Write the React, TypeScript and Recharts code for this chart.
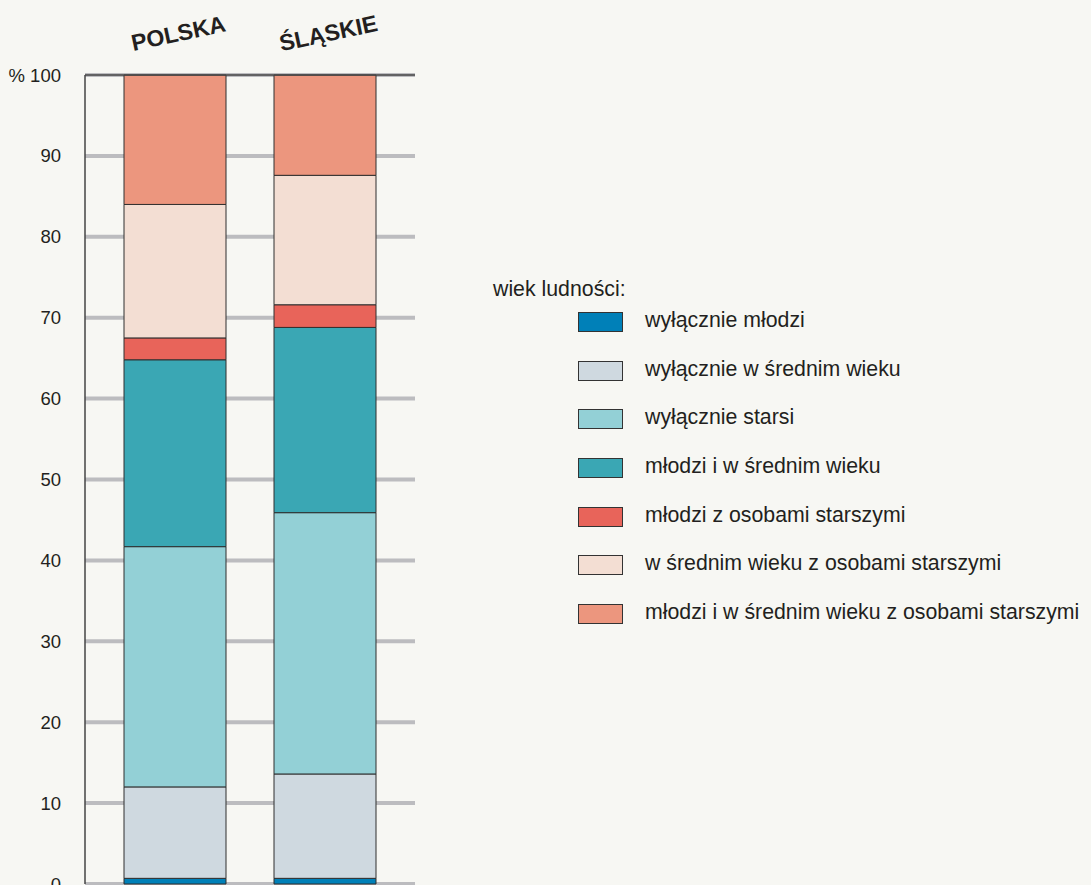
import React from 'react';
import { BarChart, Bar, XAxis, YAxis, CartesianGrid, Legend } from 'recharts';

const categories = ['POLSKA', 'ŚLĄSKIE'];
const seriesNames = [
  'wyłącznie młodzi',
  'wyłącznie w średnim wieku',
  'wyłącznie starsi',
  'młodzi i w średnim wieku',
  'młodzi z osobami starszymi',
  'w średnim wieku z osobami starszymi',
  'młodzi i w średnim wieku z osobami starszymi',
];
const seriesColors = ['#0080b8', '#cfd9e0', '#93d0d6', '#3aa7b4', '#e8645a', '#f3ded3', '#ec967e'];
const polskaValues = [0.7, 11.3, 29.7, 23.1, 2.7, 16.5, 16.0];
const slaskieValues = [0.7, 12.9, 32.3, 22.9, 2.8, 16.0, 12.4];
const yTicks = [0, 10, 20, 30, 40, 50, 60, 70, 80, 90, 100];
const legendTitle = 'wiek ludności:';

const valuesByCategory = [polskaValues, slaskieValues];
const data = categories.map((c, ci) => {
  const row: Record<string, any> = { name: c };
  seriesNames.forEach((s, si) => {
    row['s' + si] = valuesByCategory[ci][si];
  });
  return row;
});

const FONT = '"Liberation Sans", Arial, Helvetica, sans-serif';
const TEXT = '#231f20';

const TopTick = (props: any) => {
  const { x, y, payload } = props;
  return (
    <g transform={`translate(${x + 5},${y - 32}) rotate(-12)`}>
      <text x={0} y={0} textAnchor="middle" fontFamily={FONT} fontWeight="bold" fontSize={23} fill={TEXT}>
        {payload.value}
      </text>
    </g>
  );
};

const LegendContent = (props: any) => {
  const payload = [...(props.payload || [])].sort(
    (a: any, b: any) => seriesNames.indexOf(a.value) - seriesNames.indexOf(b.value)
  );
  return (
    <div style={{ fontFamily: FONT, color: TEXT, fontSize: 21.3 }}>
      <div style={{ height: 19, lineHeight: '20px', whiteSpace: 'nowrap' }}>{legendTitle}</div>
      {payload.map((p: any, i: number) => (
        <div key={i} style={{ height: 48.6, display: 'flex', alignItems: 'center', marginLeft: 85, whiteSpace: 'nowrap' }}>
          <div
            style={{
              width: 43,
              height: 18,
              background: p.color,
              border: '1px solid #333',
              marginRight: 22,
              flex: 'none',
            }}
          />
          <span style={{ lineHeight: '20px', position: 'relative', top: -2 }}>{p.value}</span>
        </div>
      ))}
    </div>
  );
};

export default function App() {
  return (
    <div style={{ width: 1091, height: 885, background: '#f7f7f3', overflow: 'hidden' }}>
      <style>{`body{margin:0;background:#f7f7f3;}`}</style>
      <BarChart
        width={1091}
        height={900}
        data={data}
        margin={{ top: 15, right: 676, bottom: 16, left: 25 }}
        barSize={102}
      >
        <CartesianGrid horizontal vertical={false} stroke="#bcbcbf" strokeWidth={4} />
        <XAxis
          dataKey="name"
          orientation="top"
          height={60}
          padding={{ left: 15, right: 15 }}
          tickLine={false}
          tickSize={0}
          axisLine={{ stroke: '#444', strokeWidth: 1.5 }}
          tick={<TopTick />}
          interval={0}
        />
        <YAxis
          domain={[0, 100]}
          ticks={yTicks}
          width={60}
          tickLine={false}
          tickSize={0}
          tickMargin={24}
          axisLine={{ stroke: '#444', strokeWidth: 1.5 }}
          tick={{ fontFamily: FONT, fontSize: 18.5, fill: TEXT }}
          tickFormatter={(v: number) => (v === 100 ? '% 100' : String(v))}
        />
        <YAxis
          yAxisId="r"
          orientation="right"
          domain={[0, 100]}
          width={0}
          tick={false}
          tickLine={false}
          axisLine={{ stroke: '#444', strokeWidth: 1.5 }}
        />
        {seriesNames.map((s, si) => (
          <Bar
            key={s}
            dataKey={'s' + si}
            name={s}
            stackId="a"
            fill={seriesColors[si]}
            stroke="#2f2f2f"
            strokeWidth={1}
            isAnimationActive={false}
          />
        ))}
        <Legend
          layout="vertical"
          align="center"
          verticalAlign="middle"
          content={<LegendContent />}
          wrapperStyle={{ left: 493, top: 279, width: 598 }}
        />
      </BarChart>
    </div>
  );
}
